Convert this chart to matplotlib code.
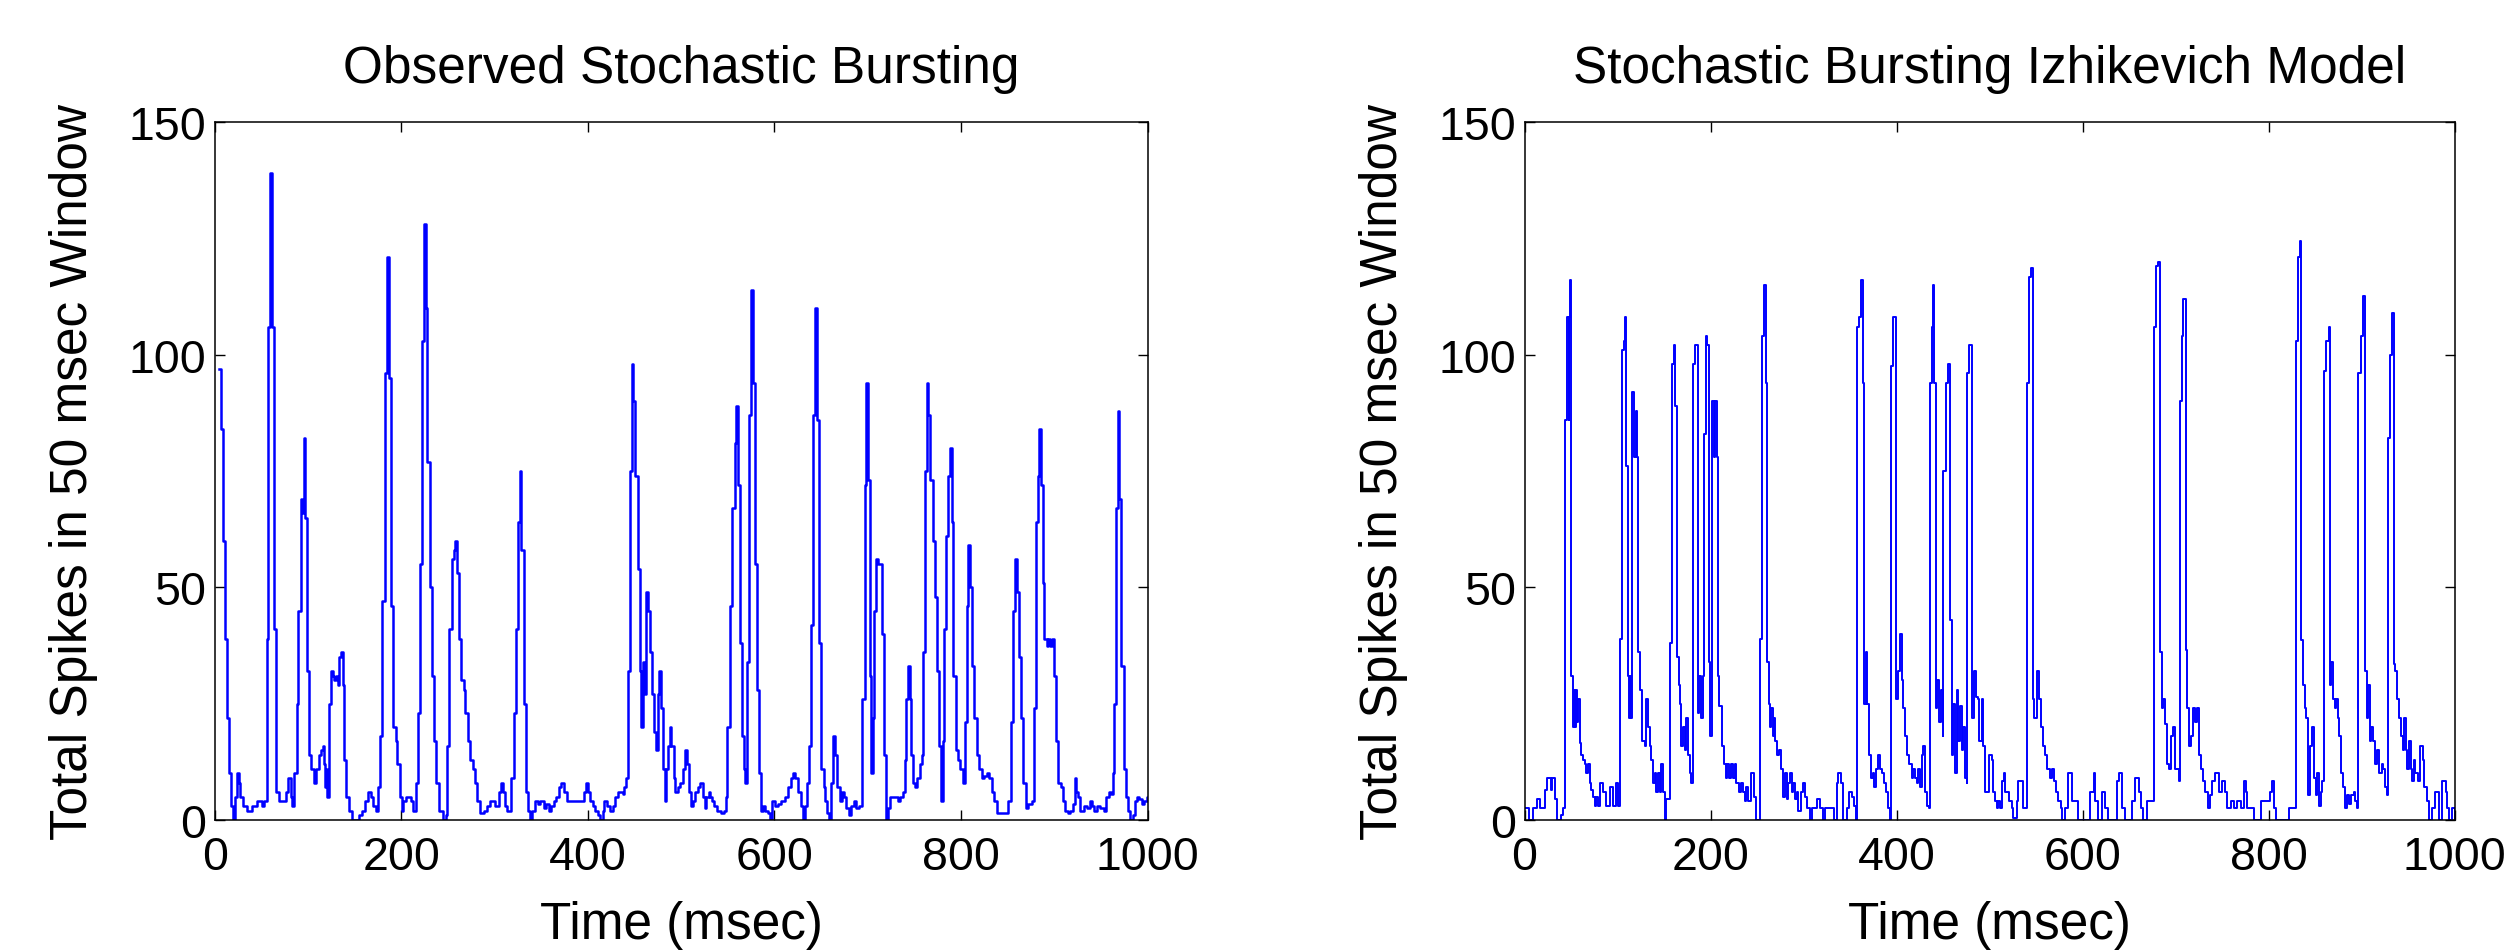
import matplotlib
matplotlib.use('Agg')
import matplotlib.pyplot as plt

# ---------------- data ----------------
obs_t = [4.7, 6.5, 9.0, 10.8, 13.3, 15.4, 18.0, 19.7, 21.5, 24.1, 25.9, 27.6, 30.5, 34.8, 39.5, 44.9, 50.3, 53.1,
         55.7, 57.5, 59.6, 61.8, 63.9, 66.1, 68.9, 73.6, 76.5, 79.0, 81.5, 83.3, 85.5, 88.0, 89.8, 92.3, 93.7, 95.5,
         97.3, 99.1, 101.3, 103.4, 105.9, 108.4, 111.3, 113.5, 115.6, 117.1, 118.5, 119.6, 120.6, 122.8, 124.6,
         126.4, 128.2, 130.0, 131.8, 133.6, 135.4, 137.2, 139.0, 141.1, 143.6, 147.2, 150.8, 154.4, 158.0, 161.6,
         164.5, 167.0, 169.5, 172.4, 174.9, 177.0, 179.5, 182.0, 184.6, 186.7, 189.2, 191.4, 193.9, 195.7, 198.2,
         200.4, 201.8, 204.7, 207.5, 210.1, 212.6, 215.4, 217.6, 219.7, 221.9, 224.8, 226.2, 228.0, 230.5, 232.7,
         235.2, 237.7, 240.6, 244.2, 247.8,
         248.9, 251.4, 254.2, 256.0, 257.8, 259.6, 262.1, 264.2, 266.7, 268.5, 271.0, 273.9, 276.4, 278.5, 281.0,
         283.9, 288.2, 291.8, 295.3, 300.7, 304.3, 306.8, 308.9, 311.4, 313.2, 316.1, 317.9, 320.4, 322.9, 325.0,
         326.8, 328.6, 331.1, 333.3, 335.4, 337.6, 340.1, 342.9, 346.1, 349.0, 352.6, 355.4, 357.9, 360.8, 363.3,
         365.8, 368.7, 371.2, 374.0, 377.6, 395.5, 398.0, 400.1, 402.6, 405.5, 408.0, 410.5, 413.4, 415.9, 417.7,
         420.5, 424.1, 427.0, 429.5, 432.0, 437.3, 439.1, 441.3, 442.7, 444.9, 447.0, 448.4, 450.6, 453.4, 455.6,
         457.4, 458.8, 460.9, 462.7, 464.9, 466.3, 468.5, 470.6, 472.7, 474.9, 476.7, 478.8, 480.6, 482.4, 483.8,
         486.0, 487.8, 489.6, 492.1, 493.9, 496.4, 499.2, 502.1, 504.6,
         506.0, 508.2, 510.7, 512.5, 515.0, 517.8, 520.3, 523.2, 525.0, 526.8, 529.3, 531.4, 533.2, 535.7, 538.6,
         542.9, 545.7, 547.5, 549.3, 551.8, 554.3, 557.2, 559.0, 560.8, 562.9, 565.0, 566.8, 568.6, 570.8, 572.6,
         575.1, 576.9, 578.6, 580.8, 582.9, 585.1, 587.6, 590.1, 592.9, 595.4, 597.6, 600.1, 603.7, 607.2, 610.8,
         614.4, 617.3, 619.8, 622.3, 625.1, 628.0, 630.5, 633.0, 635.1, 637.3, 639.4, 641.6, 643.7, 645.9, 647.7,
         650.2, 652.7, 654.5, 656.2, 658.4, 660.9, 663.0, 665.2, 667.3, 669.8, 672.3, 674.5, 677.0, 679.5, 682.4,
         684.9, 687.7, 690.2, 692.4, 694.2, 696.7, 698.5, 700.2, 702.0, 703.8, 705.6, 707.0, 708.5, 711.0, 713.5,
         715.6, 717.4, 719.2, 721.7, 724.2, 727.1, 729.6, 732.4, 734.9, 737.8, 739.6, 741.4, 743.2, 745.0, 746.7,
         748.9, 751.0, 753.2, 755.7,
         757.8, 759.6, 761.4, 763.2, 764.9, 766.7, 769.6, 772.1, 774.6, 776.7, 778.5, 780.3, 782.1, 783.9, 786.4,
         788.2, 790.0, 791.8, 794.6, 797.1, 798.9, 801.8, 804.3, 806.1, 807.9, 809.7, 811.8, 814.3, 816.8, 819.3,
         822.2, 824.7, 827.5, 830.4, 832.9, 835.4, 838.3, 850.8, 853.3, 855.4, 857.9, 859.7, 862.2, 864.4, 866.9,
         869.4, 872.2, 875.8, 878.3, 880.5, 882.3, 884.0, 885.8, 887.6, 889.4, 891.9, 893.7, 895.5, 897.6, 899.8,
         901.9, 904.4, 906.9, 909.1, 911.6, 914.1, 917.0, 919.5, 921.6, 923.4, 925.2, 927.0, 932.0, 934.8, 937.7,
         940.2, 942.7, 945.6, 948.4, 953.4, 955.6, 958.1, 960.6, 962.8, 964.2, 966.0, 968.1, 969.5, 971.7, 974.2,
         976.7, 978.8, 981.3, 983.8, 986.0, 988.5, 991.0, 993.8, 996.3, 999.2, 1000.0]
obs_v = [97, 84, 60, 39, 22, 10, 3, 0, 5, 10, 8, 5, 3, 2, 3, 4, 3, 4,
         39, 106, 139, 106, 41, 6, 4, 4, 6, 9, 5, 3, 10, 25, 45, 69, 66, 82,
         65, 32, 14, 11, 8, 11, 14, 15, 16, 12, 7, 11, 5, 25, 32,
         31, 30, 31, 29, 35, 36, 29, 13, 5, 2, 0, 0, 1, 2, 4,
         6, 5, 3, 2, 7, 18, 47, 96, 121, 95, 46, 20, 17, 12, 5,
         2, 4, 5, 5, 4, 2, 8, 23, 55, 103, 128, 110, 77, 50, 31,
         17, 8, 2, 0, 1,
         16, 41, 56, 58, 60, 53, 39, 30, 28, 23, 17, 13, 11, 8, 4,
         1.5, 2, 3, 4, 3, 6, 8, 6, 3, 2, 2, 9, 23, 41, 64,
         75, 58, 25, 6, 2, 0, 2, 4, 3.5, 4, 2.5, 3.5, 2, 3, 4,
         5, 7, 8, 6, 4, 6, 8, 6, 4, 3, 2, 1, 0, 2, 4,
         3, 2, 3, 5, 6, 5.5, 7, 9, 32, 75, 98, 90, 74, 54, 32,
         20, 34, 27, 49, 45, 36, 27, 19, 15, 27, 32, 24, 11, 4, 11,
         16, 20, 16, 9, 6, 7, 8, 11, 15,
         12, 6, 3, 4, 6, 7, 8, 5, 2.5, 5, 6, 5, 4, 3, 2,
         1.5, 2, 5, 20, 46, 67, 81, 89, 72, 38, 18, 11, 8, 34, 87,
         114, 94, 55, 28, 10, 2, 3, 2, 1.5, 0, 4, 3, 3.5, 4, 5,
         7, 9, 10, 9, 6, 3, 0, 3, 8, 16, 42, 87, 110, 86, 38,
         11, 7, 4, 1.5, 0, 8, 18, 14, 7, 4, 6, 5, 2.5, 1, 3,
         4, 2.5, 3, 3, 26, 72, 94, 73, 31, 10, 22, 45, 56, 55, 55,
         40, 14, 0, 2.5, 5, 5, 5, 4, 5, 6, 13, 26, 33, 26, 14,
         8, 7, 9, 12,
         14, 36, 75, 94, 87, 73, 60, 48, 32, 16, 4, 17, 41, 61, 74,
         80, 64, 31, 15, 13, 11, 8, 21, 46, 59, 50, 33, 22, 14, 11,
         9, 9.5, 10, 9, 6, 4, 1.5, 4, 21, 45, 56, 49, 35, 22, 8,
         2.5, 3.5, 4, 24, 64, 74, 84, 72, 51, 39, 37.5, 39, 37.5, 39, 31,
         17, 8, 7, 4, 2, 1.5, 2, 3.5, 9, 6, 5, 2, 3, 2.5, 4,
         3, 2, 3, 2.5, 2, 5, 6, 5.5, 10, 25, 67, 88, 69, 33, 11,
         5, 2, 0, 1, 4, 5, 4.5, 3.5, 4, 5, 5]

izh_t = [0.7, 4.3, 8.9, 13.6, 16.1, 21.5, 24.3, 27.9, 29.7, 32.2, 35.1, 38.7, 41.2, 43.0, 45.8, 47.3, 48.0, 48.4,
         50.1, 51.9, 53.0, 54.1, 55.2, 56.2, 57.3, 59.1, 60.9, 62.7, 64.5, 66.3, 68.1, 69.9, 71.7, 73.4, 75.2, 77.0,
         78.8, 80.6, 84.2, 87.8, 91.4, 95.0, 98.5, 100.3, 102.1, 104.6, 106.8, 108.2, 109.3, 111.1, 112.2, 113.2,
         114.3, 115.7, 117.2, 118.2, 119.3, 120.4, 121.8, 123.6, 126.1, 129.0, 130.8, 132.6, 134.4, 136.2, 138.0,
         139.8, 141.5, 143.3, 145.1, 146.9, 148.7, 150.5, 152.3, 155.9, 158.4, 160.5, 161.3, 164.1, 165.6, 167.0,
         168.4, 170.2, 172.0, 173.8, 175.6, 177.4, 179.2, 181.0, 182.8, 186.3, 188.1, 189.9, 191.7, 192.8, 194.6,
         196.4, 197.8, 199.6, 201.8, 203.2, 205.0, 206.8, 207.9, 209.6, 212.2, 214.3, 216.1, 217.9, 219.7, 222.2,
         224.0, 225.8, 227.6, 230.1, 232.2, 234.7, 236.5, 238.3, 240.1, 243.7, 246.6, 249.1,
         253.1, 255.2, 257.4, 259.5, 260.9, 262.4, 263.8, 265.2, 266.7, 268.1, 269.5, 271.7, 273.8, 275.3, 278.1,
         280.0, 281.7, 283.5, 285.3, 287.1, 288.9, 290.7, 292.5, 294.3, 296.8, 298.9, 301.4, 304.0, 306.8, 308.6,
         314.0, 317.6, 320.4, 323.0, 332.6, 335.5, 337.3, 339.8, 342.0, 346.2, 348.8, 351.6, 354.1, 356.3, 357.7,
         359.5, 361.3, 363.4, 365.2, 366.7, 368.5, 369.9, 372.1, 374.2, 375.6, 377.8, 380.3, 382.1, 383.9, 386.4,
         388.5, 391.0, 392.8, 393.9, 395.7, 399.3, 401.1, 403.6, 405.7, 407.2, 409.3, 411.5, 413.6, 416.1, 417.9,
         419.7, 421.5, 423.3, 425.1, 426.9, 428.7, 430.5, 433.0, 435.1, 435.8, 437.6, 439.4, 440.5, 441.9, 443.7,
         445.5, 447.7, 449.5, 450.2, 453.0, 455.6, 457.4, 459.2, 460.9, 462.7, 464.5, 466.3, 468.1, 469.9, 471.7,
         473.5, 475.3, 476.0, 478.1, 481.0, 483.2, 485.0, 487.1, 488.9, 491.4, 493.2,
         495.3, 498.9, 502.5, 504.2, 506.0, 507.8, 509.6, 511.4, 513.2, 515.0, 516.8, 520.4, 524.0, 525.7, 529.3,
         531.1, 536.5, 540.1, 542.6, 544.7, 546.2, 548.3, 550.8, 553.3, 555.5, 558.0, 559.8, 562.3, 565.2, 567.0,
         568.8, 571.3, 574.1, 577.0, 578.4, 581.3, 584.2, 588.5, 595.6, 608.2, 611.8, 613.6, 617.1, 620.7, 624.3,
         627.2, 636.9, 638.7, 642.2, 645.8, 653.7, 656.6, 660.2, 663.0, 665.5, 669.1, 676.3, 678.8, 681.0, 683.5,
         685.2, 687.0, 688.8, 690.6, 693.1, 695.3, 697.1, 699.6, 703.2, 705.0, 706.8, 708.5, 711.1, 712.8, 714.6,
         716.8, 719.3, 721.1, 722.9, 725.4, 727.5, 729.3, 731.8, 734.7, 737.2, 739.7, 742.6, 746.2, 749.8, 753.3,
         755.5, 759.1, 762.7, 766.3, 769.9, 773.5, 775.3, 777.0, 784.2, 791.4, 802.1, 803.9, 805.7, 807.5, 821.8,
         829.0, 831.5, 833.7, 835.1, 837.3, 839.0, 840.8, 842.3, 844.1, 846.9, 848.7, 850.5, 852.3, 854.1, 855.9,
         857.7, 859.5, 862.3, 864.5, 865.9, 867.7, 869.5, 871.0, 872.7, 874.5, 876.3, 878.1, 880.3, 882.1, 883.9,
         886.4, 888.9, 891.7, 893.5, 895.3, 896.4, 898.9, 901.4, 903.2, 905.4, 906.8, 908.9, 910.7, 912.5, 914.3,
         916.8, 919.0, 921.5, 923.3, 925.1, 926.9, 928.3, 930.4, 933.0, 934.7, 936.5, 938.3, 940.5, 942.6, 944.4,
         945.5, 947.3, 949.1, 950.9, 952.7, 954.5, 956.3, 958.0, 960.6, 963.4, 965.9, 967.7, 969.9, 972.4, 976.0,
         978.5, 981.3, 983.1, 986.7, 990.3, 992.1, 993.9, 997.5, 1000.0]
izh_v = [2.5, 0, 2.5, 4.5, 2.5, 6.5, 9, 6.5, 9, 4.5, 0, 1, 2.5, 86, 108, 86, 108, 116,
         31, 20, 28, 20, 28, 21, 26, 16.5, 14, 13, 12, 10, 12, 8, 6.5, 5, 3, 5,
         3, 8, 6, 3, 7, 3, 8, 3, 39, 101, 103, 108, 76, 31, 22, 31,
         22, 92, 88, 78, 88, 78, 36, 28, 17, 16, 26, 20, 16, 13, 8,
         10, 6, 10, 6, 12, 6, 0, 4.5, 38, 98, 102, 89, 35, 29, 25,
         16, 20, 15, 22, 14, 10, 8, 98, 102, 23, 31, 22, 31, 83, 104,
         102, 34, 18, 90, 78, 90, 78, 31, 24.5, 16, 12, 9, 12, 9, 12,
         9, 12, 8, 6, 8, 6, 4, 7, 4, 10, 5, 0,
         39, 104, 115, 94, 34, 25, 20, 24, 18, 22, 17, 14, 15, 11, 5,
         10, 4.5, 8, 10, 6, 8, 4.5, 6, 2, 6, 8, 5, 2.5, 0, 2.5,
         4.5, 2.5, 0, 2.5, 0, 8, 10, 8, 0, 2.5, 6, 5, 3, 0, 106,
         108, 116, 94, 25, 36, 25, 14, 9, 10, 7, 11, 14, 11, 10, 8,
         6, 2.5, 0, 97.5, 108, 26, 32, 40, 30, 24, 18, 14, 12, 9, 11,
         9, 8, 11, 7, 14, 16, 6, 3, 2.5, 94, 106, 115, 94, 24, 30,
         21, 28, 18, 75, 94, 98, 43, 14, 25, 10, 28, 17, 24.5, 15, 20,
         9, 8, 96, 102, 22, 32, 26.5, 26, 17, 26, 16,
         6, 14, 13, 6, 4, 2.5, 4, 2.5, 8.3, 10, 6, 4, 2.5, 0.5, 4,
         8.3, 2.5, 94, 116.7, 118.6, 26, 22, 32, 26, 20, 16, 14, 11, 9, 11,
         8.3, 6, 4, 2.5, 0, 2.5, 10, 4, 0, 6, 10, 4, 0, 6, 2.5,
         0, 8.3, 10, 2.5, 0, 4, 9, 6, 2.5, 0, 4, 106, 119, 120, 36,
         24, 26, 20.6, 12, 11, 18, 20, 11, 8.3, 90, 104, 112, 36.5, 24, 16,
         18, 24, 21, 24, 14, 11, 8.3, 6, 2.5, 5.4, 8.3, 10, 6, 8.3, 6,
         2.5, 4, 2.5, 4, 2.5, 8.3, 6, 2.5, 0, 4, 6, 8.3, 2.5, 0, 2.5,
         103, 121, 124.5, 38.7, 29, 24, 22, 5.4, 16, 20, 9, 5.4, 10, 3, 6,
         8.3, 96.5, 103, 106, 29, 34, 26, 24, 26, 22, 18, 10, 7, 2.5, 5.4,
         3.5, 5.4, 6, 4, 2.5, 96, 104, 112.7, 32, 22, 29, 17, 20, 17, 12,
         15, 10, 12, 11, 7, 5.4, 82, 100, 109, 33.5, 32, 26, 22, 18, 15,
         22, 15, 11, 17, 11, 8.3, 13, 10, 8.3, 16, 13, 7, 4, 0, 2.5,
         6, 6, 0, 8.3, 6, 2.5, 0, 2.5, 0]

x_ticks = [0, 200, 400, 600, 800, 1000]
y_ticks = [0, 50, 100, 150]
titles = ['Observed Stochastic Bursting', 'Stochastic Bursting Izhikevich Model']
x_label = 'Time (msec)'
y_label = 'Total Spikes in 50 msec Window'

# ---------------- drawing ----------------
plt.rcParams['font.family'] = ['Liberation Sans', 'DejaVu Sans']

fig = plt.figure(figsize=(25.1, 9.53), dpi=100)
ax1 = fig.add_axes([0.08554, 0.1385, 0.3717, 0.7324])
ax2 = fig.add_axes([0.6074, 0.1385, 0.3705, 0.7324])

for ax, t, v, title, lw in [(ax1, obs_t, obs_v, titles[0], 1.8),
                             (ax2, izh_t, izh_v, titles[1], 1.4)]:
    ax.plot(t, v, color='#0000ff', lw=lw, drawstyle='steps-post')
    ax.set_xlim(0, 1000)
    ax.set_ylim(0, 150)
    ax.set_xticks(x_ticks)
    ax.set_yticks(y_ticks)
    ax.tick_params(direction='in', length=7.2, width=1.0, top=True, right=True,
                   labelsize=33.5, colors='black')
    ax.tick_params(axis='x', pad=11)
    ax.tick_params(axis='y', pad=6)
    for s in ax.spines.values():
        s.set_linewidth(1.1)
        s.set_color('black')
    ax.set_title(title, fontsize=37, pad=29)
    ax.set_xlabel(x_label, fontsize=37, labelpad=15)
    ax.set_ylabel(y_label, fontsize=37, labelpad=22)

fig.savefig('out.png', dpi=100, facecolor='white')
